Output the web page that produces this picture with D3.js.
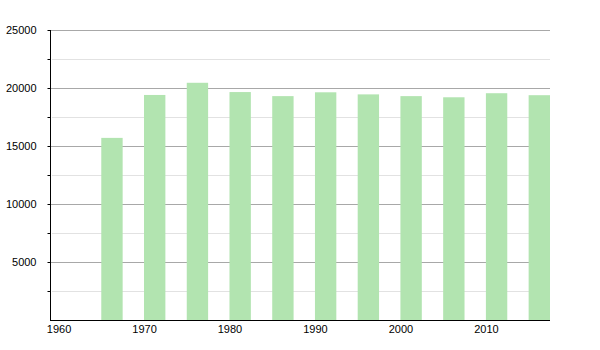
<!DOCTYPE html>
<html>
<head>
<meta charset="utf-8">
<script src="https://cdn.jsdelivr.net/npm/d3@7"></script>
<style>
  body { margin: 0; background: #fff; }
  text { font-family: "Liberation Sans", Arial, sans-serif; font-size: 11px; fill: #000; }
</style>
</head>
<body>
<svg id="chart" width="600" height="350"></svg>
<script>
var years = [1965, 1970, 1975, 1980, 1985, 1990, 1995, 2000, 2005, 2010, 2015];
var population = [15700, 19400, 20450, 19650, 19300, 19630, 19450, 19300, 19200, 19550, 19380];
var yTicks = [5000, 10000, 15000, 20000, 25000];
var xTicks = [1960, 1970, 1980, 1990, 2000, 2010];

var PLOT_LEFT = 50, PLOT_RIGHT = 550, PLOT_TOP = 30, PLOT_BOTTOM = 320;
var BAR_YEARS = 2.5;

var svg = d3.select("#chart");

var x = d3.scaleLinear().domain([1959, 2017.5]).range([PLOT_LEFT, PLOT_RIGHT]);
var y = d3.scaleLinear().domain([0, 25000]).range([PLOT_BOTTOM, PLOT_TOP]);

// gridlines, minor every 2500, major every 5000
var minor = d3.range(2500, 25001, 5000);
svg.append("g").selectAll("line.minor")
	.data(minor)
	.enter()
	.append("line")
	.attr("x1", PLOT_LEFT + 2)
	.attr("x2", PLOT_RIGHT)
	.attr("y1", function(d) { return Math.round(y(d)) + 0.5; })
	.attr("y2", function(d) { return Math.round(y(d)) + 0.5; })
	.style("stroke", "#e2e2e2");

svg.append("g").selectAll("line.major")
	.data(yTicks)
	.enter()
	.append("line")
	.attr("x1", PLOT_LEFT)
	.attr("x2", PLOT_RIGHT)
	.attr("y1", function(d) { return Math.round(y(d)) + 0.5; })
	.attr("y2", function(d) { return Math.round(y(d)) + 0.5; })
	.style("stroke", "#a8a8a8");

// bars
svg.append("g").selectAll("rect")
	.data(years)
	.enter()
	.append("rect")
	.attr("x", function(d) { return x(d); })
	.attr("width", function(d) { return x(d + BAR_YEARS) - x(d); })
	.attr("y", function(d, i) { return y(population[i]); })
	.attr("height", function(d, i) { return PLOT_BOTTOM - y(population[i]); })
	.attr("fill", "#b2e4b0");

// y axis
var yAxis = d3.axisLeft(y)
	.tickValues(d3.range(2500, 25001, 2500))
	.tickSize(3)
	.tickFormat(function(d) { return yTicks.indexOf(d) >= 0 ? d : ""; });

var yg = svg.append("g")
	.attr("transform", "translate(" + (PLOT_LEFT + 0.5) + ",0)")
	.call(yAxis);
yg.select(".domain").remove();
yg.selectAll(".tick line").style("stroke", "#000");
yg.selectAll(".tick text")
	.attr("x", -14)
	.style("font-family", "Liberation Sans, Arial, sans-serif")
	.style("font-size", "11px");

svg.append("line")
	.attr("x1", PLOT_LEFT + 0.5).attr("x2", PLOT_LEFT + 0.5)
	.attr("y1", PLOT_TOP).attr("y2", PLOT_BOTTOM)
	.style("stroke", "#000");

// x axis
var xAxis = d3.axisBottom(x)
	.tickValues(xTicks)
	.tickSize(0)
	.tickFormat(d3.format("d"));

var xg = svg.append("g")
	.attr("transform", "translate(0," + (PLOT_BOTTOM + 0.5) + ")")
	.call(xAxis);
xg.select(".domain").remove();
xg.selectAll(".tick text")
	.attr("dy", "0.95em")
	.attr("y", 2)
	.style("font-family", "Liberation Sans, Arial, sans-serif")
	.style("font-size", "11px");

svg.append("line")
	.attr("x1", PLOT_LEFT).attr("x2", PLOT_RIGHT)
	.attr("y1", PLOT_BOTTOM + 0.5).attr("y2", PLOT_BOTTOM + 0.5)
	.style("stroke", "#000");
</script>
</body>
</html>
